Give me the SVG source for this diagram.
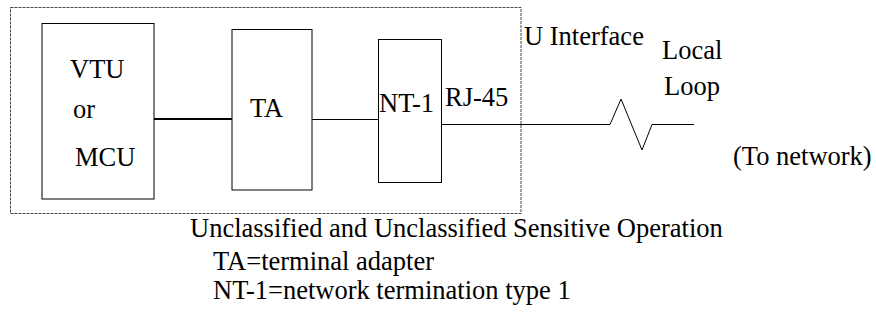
<svg xmlns="http://www.w3.org/2000/svg" width="876" height="320" viewBox="0 0 876 320">
  <style>
    .t { font-size: 26.5px; fill: #000; }
    .box { fill: none; stroke: #000; stroke-width: 1; }
    .wire { fill: none; stroke: #000; stroke-width: 1; }
    .bus { fill: none; stroke: #000; stroke-width: 2.2; }
    .boundary { fill: none; stroke: #444; stroke-width: 1; stroke-dasharray: 3 1; }
  </style>
  <rect width="876" height="320" fill="#fff"/>

  <!-- premises boundary -->
  <rect id="boundary" class="boundary" x="10.5" y="7.5" width="510.5" height="206"/>

  <g font-family="Liberation Serif, Times New Roman, Times, DejaVu Serif, serif">
    <g id="vtu">
      <rect class="box" x="42" y="23.5" width="112" height="175.5"/>
      <text class="t" x="70" y="78">VTU</text>
      <text class="t" x="73" y="118">or</text>
      <text class="t" x="75" y="166">MCU</text>
    </g>

    <g id="ta">
      <rect class="box" x="232" y="29.5" width="80" height="160.5"/>
      <text class="t" x="250" y="117">TA</text>
    </g>

    <g id="nt1">
      <rect class="box" x="378.5" y="39.5" width="63" height="143"/>
      <text class="t" x="379" y="112">NT-1</text>
    </g>

    <g id="connectors">
      <line class="bus" x1="154" y1="119" x2="232" y2="119"/>
      <line class="wire" x1="312" y1="119.5" x2="378.5" y2="119.5"/>
      <!-- local loop with break symbol -->
      <polyline class="wire" points="441.5,124.5 610,124.5 621,99 642,150 652,124.5 694,124.5"/>
    </g>

    <g id="labels">
      <text class="t" x="445" y="106">RJ-45</text>
      <text class="t" x="524" y="45">U Interface</text>
      <text class="t" x="662" y="59">Local</text>
      <text class="t" x="664" y="95">Loop</text>
      <text class="t" x="733" y="165">(To network)</text>
      <text class="t" x="190" y="237">Unclassified and Unclassified Sensitive Operation</text>
      <text class="t" x="213" y="270">TA=terminal adapter</text>
      <text class="t" x="213" y="299">NT-1=network termination type 1</text>
    </g>
  </g>
</svg>
